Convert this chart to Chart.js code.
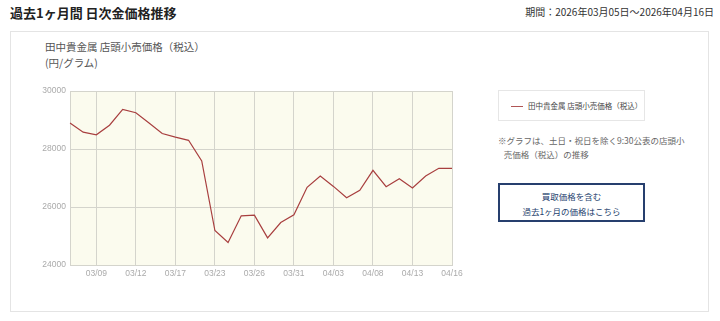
<!DOCTYPE html>
<html>
<head>
<meta charset="utf-8">
<script src="https://cdn.jsdelivr.net/npm/chart.js@4/dist/chart.umd.min.js"></script>
<style>
    body { margin: 0; width: 720px; height: 321px; background: #fff; position: relative; overflow: hidden;
           font-family: "Noto Sans CJK JP", "Noto Sans", sans-serif; color: #333; }
    .abs { position: absolute; white-space: nowrap; }
    #title { left: 10px; top: 3px; font-size: 13px; font-weight: bold; color: #222; }
    #period { right: 6px; top: 4px; font-size: 10px; color: #333; }
    #card { left: 10px; top: 31px; width: 699px; height: 281px; border: 1px solid #e4e4e4; box-sizing: border-box; }
    #ctitle { left: 45px; top: 39px; font-size: 10.5px; color: #555; line-height: 16px; }
    #wrap { left: 30px; top: 80px; width: 440px; height: 210px; }
    #legend { left: 498px; top: 90px; width: 147px; height: 31px; border: 1px solid #e6e6e6; box-sizing: border-box;
              font-size: 7.5px; color: #444; }
    #legend .ln { position: absolute; left: 12px; top: 15px; width: 12px; height: 1px; background: #b05555; }
    #legend .tx { position: absolute; left: 29px; top: 9px; }
    #note { left: 498px; top: 133px; font-size: 8.5px; color: #666; line-height: 14px; }
    #btn { left: 498px; top: 183px; width: 147px; height: 39px; border: 2px solid #263f6e; box-sizing: border-box;
           font-size: 8.5px; color: #263f6e; text-align: center; line-height: 15px; padding-top: 4px; }
</style>
</head>
<body>
<div class="abs" id="title">過去1ヶ月間 日次金価格推移</div>
<div class="abs" id="period">期間：2026年03月05日〜2026年04月16日</div>
<div class="abs" id="card"></div>
<div class="abs" id="ctitle">田中貴金属 店頭小売価格（税込）<br>(円/グラム)</div>
<div class="abs" id="wrap"><canvas id="c"></canvas></div>
<div class="abs" id="legend"><div class="ln"></div><div class="tx">田中貴金属 店頭小売価格（税込）</div></div>
<div class="abs" id="note">※グラフは、土日・祝日を除く9:30公表の店頭小<br>&nbsp;&nbsp;&nbsp;売価格（税込）の推移</div>
<div class="abs" id="btn">買取価格を含む<br>過去1ヶ月の価格はこちら</div>

<script>
// business days, 03/05 - 04/16
var days = ['03/05', '03/06', '03/09', '03/10', '03/11', '03/12', '03/13', '03/16', '03/17', '03/18',
            '03/19', '03/23', '03/24', '03/25', '03/26', '03/27', '03/30', '03/31', '04/01', '04/02',
            '04/03', '04/06', '04/07', '04/08', '04/09', '04/10', '04/13', '04/14', '04/15', '04/16'];

// yen / gram
var prices = [28900, 28580, 28490, 28820, 29365, 29250, 28900, 28535, 28410, 28300,
              27590, 25190, 24775, 25695, 25720, 24935, 25465, 25730, 26680, 27070,
              26710, 26320, 26575, 27265, 26700, 26975, 26655, 27070, 27335, 27335];

var yTicks = [24000, 26000, 28000, 30000];

// label every 3rd day, starting at 03/09
function isMajor(i) {
    return i >= 2 && (i - 2) % 3 == 0;
}

var plotBg = {
    id: 'plotBg',
    beforeDraw: function(chart) {
        var a = chart.chartArea;
        var ctx = chart.ctx;
        ctx.save();
        ctx.fillStyle = '#fbfbee';
        ctx.fillRect(a.left, a.top, a.right - a.left, a.bottom - a.top);
        ctx.restore();
    }
};

var tickFont = { family: '"Liberation Sans", Arial, sans-serif', size: 8.5 };

new Chart(document.getElementById('c'), {
    type: 'line',
    data: {
        labels: days,
        datasets: [{
            label: '田中貴金属 店頭小売価格（税込）',
            data: prices,
            borderColor: '#a83f3f',
            borderWidth: 1.2,
            pointRadius: 0,
            tension: 0,
            fill: false
        }]
    },
    options: {
        responsive: true,
        maintainAspectRatio: false,
        animation: false,
        layout: { padding: { top: 11, right: 18, left: 0, bottom: 0 } },
        plugins: {
            legend: { display: false },
            tooltip: { enabled: false }
        },
        scales: {
            x: {
                offset: false,
                grid: {
                    drawTicks: false,
                    color: function(ctx) { return isMajor(ctx.index) ? '#d4d4cc' : 'rgba(0,0,0,0)'; }
                },
                border: { color: '#d4d4cc' },
                ticks: {
                    autoSkip: false,
                    maxRotation: 0,
                    padding: 4,
                    color: '#aaa',
                    font: tickFont,
                    callback: function(v, i) { return isMajor(i) ? days[i] : ''; }
                },
                afterFit: function(s) { s.height = 25; }
            },
            y: {
                min: yTicks[0],
                max: yTicks[yTicks.length - 1],
                afterBuildTicks: function(s) {
                    s.ticks = yTicks.map(function(v) { return { value: v }; });
                },
                grid: { drawTicks: false, color: '#d4d4cc' },
                border: { color: '#d4d4cc' },
                ticks: {
                    padding: 4,
                    color: '#aaa',
                    font: tickFont,
                    callback: function(v) { return String(v); }
                },
                afterFit: function(s) { s.width = 40; }
            }
        }
    },
    plugins: [plotBg]
});
</script>
</body>
</html>
